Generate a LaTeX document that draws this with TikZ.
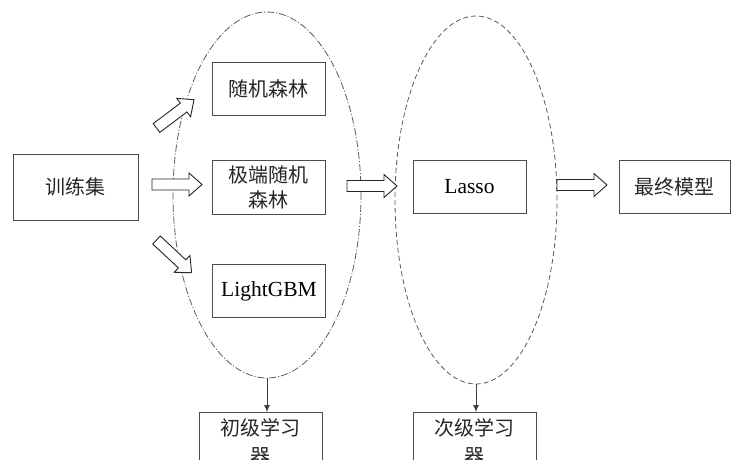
\documentclass[tikz,border=0pt]{standalone}
\usepackage{fontspec}
\setmainfont{Liberation Serif}
\newfontfamily\cjk{Noto Sans CJK SC}
\usetikzlibrary{shapes.geometric,arrows.meta}

\tikzset{
  box/.style={draw=black!70, line width=0.9pt, rectangle, inner sep=0pt,
    minimum width=113pt, minimum height=53pt, align=center,
    font=\fontsize{21.5}{25}\selectfont},
  zh/.style={font=\cjk\fontsize{20}{25}\selectfont, text=black!85},
  group/.style={ellipse, draw=black!65, line width=0.8pt, inner sep=0pt},
  hollow/.style={draw=black!85, line width=0.9pt, fill=white, line join=miter},
  drop/.style={draw=black!75, line width=0.9pt, -{Latex[length=7pt,width=6pt]}},
  pics/hollowarrow/.style={code={
    \draw[hollow] (0,-5.5) -- ({#1-13},-5.5) -- ({#1-13},-11.5) -- (#1,0)
      -- ({#1-13},11.5) -- ({#1-13},5.5) -- (0,5.5) -- cycle;}}
}

\begin{document}
\begin{tikzpicture}[x=1pt,y=-1pt]
  \useasboundingbox (0,0) rectangle (732,460);
  \clip (0,0) rectangle (732,460);

  % the two learner groups
  \node[group, dash pattern=on 7pt off 2pt on 1pt off 2pt,
        minimum width=188pt, minimum height=366pt] (g1) at (267,195) {};
  \node[group, dash pattern=on 5pt off 3pt,
        minimum width=162pt, minimum height=368pt] (g2) at (476,200) {};

  % boxes
  \node[box, minimum width=125pt, minimum height=66pt, zh] (train) at (75.5,187) {训练集};
  \node[box, zh] (rf)   at (268.5,88.5)  {随机森林};
  \node[box, zh, minimum height=54pt] (et) at (268.5,187) {极端随机\\森林};
  \node[box] (lgbm) at (269,291) {LightGBM};
  \node[box] (lasso) at (469.5,186.5) {Lasso};
  \node[box, zh, minimum width=111pt] (final) at (674.5,186.5) {最终模型};
  \node[box, zh, anchor=north, minimum width=123pt, minimum height=58pt,
        font=\cjk\fontsize{20}{28}\selectfont] (lv1) at (260.5,412) {初级学习\\器};
  \node[box, zh, anchor=north, minimum width=123pt, minimum height=58pt,
        font=\cjk\fontsize{20}{28}\selectfont] (lv2) at (474.5,412) {次级学习\\器};

  % hollow block arrows
  \pic[rotate=37]  at (156.5,128) {hollowarrow=47};
  \pic             at (152,184.5) {hollowarrow=50};
  \pic[rotate=-43] at (156.5,240) {hollowarrow=48};
  \pic             at (347,186)   {hollowarrow=50};
  \pic             at (557,185)   {hollowarrow=50};

  % from each group to its label
  \draw[drop] (g1.south) -- (g1.south |- lv1.north);
  \draw[drop] (g2.south) -- (g2.south |- lv2.north);
\end{tikzpicture}
\end{document}
